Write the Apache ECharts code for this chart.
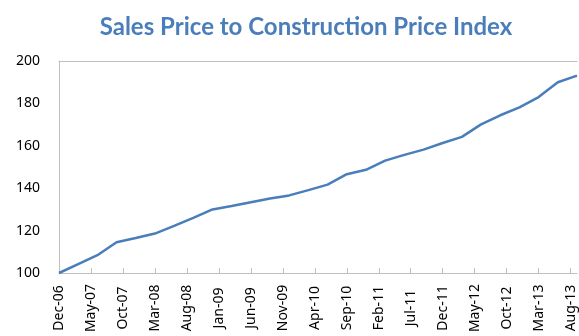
<!DOCTYPE html>
<html>
<head>
<meta charset="utf-8">
<style>
  html, body { margin: 0; padding: 0; background: #ffffff; }
  #chart { width: 579px; height: 336px; }
</style>
<script src="https://cdn.jsdelivr.net/npm/echarts@6/dist/echarts.min.js"></script>
</head>
<body>
<div id="chart"></div>
<script>
// Quarterly index readings (Dec-06 = 100)
const quarters = [
  'Dec-06', 'Mar-07', 'Jun-07', 'Sep-07', 'Dec-07', 'Mar-08', 'Jun-08',
  'Sep-08', 'Dec-08', 'Mar-09', 'Jun-09', 'Sep-09', 'Dec-09', 'Mar-10',
  'Jun-10', 'Sep-10', 'Dec-10', 'Mar-11', 'Jun-11', 'Sep-11', 'Dec-11',
  'Mar-12', 'Jun-12', 'Sep-12', 'Dec-12', 'Mar-13', 'Jun-13', 'Sep-13'
];
const indexValues = [
  100.0, 104.2, 108.4, 114.5, 116.5, 118.6, 122.2,
  126.0, 130.0, 131.6, 133.4, 135.1, 136.6, 139.1,
  141.7, 146.6, 148.7, 153.0, 155.7, 158.2, 161.3,
  164.2, 170.1, 174.4, 178.1, 183.0, 190.0, 193.1
];

// Monthly date axis from Dec-06 through Sep-13, labelled every 5 months
const monthNames = ['Jan','Feb','Mar','Apr','May','Jun','Jul','Aug','Sep','Oct','Nov','Dec'];
const months = [];
for (let y = 2006, m = 11; y < 2013 || (y === 2013 && m <= 8); ) {
  months.push(monthNames[m] + '-' + String(y % 100).padStart(2, '0'));
  m++;
  if (m > 11) { m = 0; y++; }
}

const yTicks = { min: 100, max: 200, interval: 20 };

// Place each quarterly value on its month; other months stay empty
const lookup = {};
quarters.forEach((q, i) => { lookup[q] = indexValues[i]; });
const seriesData = months.map(mo => (mo in lookup ? lookup[mo] : null));

const chart = echarts.init(document.getElementById('chart'), null, { renderer: 'canvas' });
const axisGray = '#bfbfbf';
const titleFont = 'Lato, "Liberation Sans", sans-serif';
const labelFont = '"Noto Sans", "Open Sans", sans-serif';

chart.setOption({
  animation: false,
  title: {
    text: 'Sales Price to Construction Price Index',
    left: 301,
    top: 10,
    textAlign: 'center',
    textStyle: { fontFamily: titleFont, fontWeight: 'bold', fontSize: 24, color: '#4a7ebb' }
  },
  grid: { left: 59, right: 2, top: 61, bottom: 63, containLabel: false },
  xAxis: [{
    type: 'category',
    data: months,
    boundaryGap: false,
    axisLine: { lineStyle: { color: axisGray, width: 1 } },
    axisTick: { show: true, inside: true, length: 5, interval: 4, lineStyle: { color: axisGray } },
    axisLabel: {
      interval: 4, rotate: 90, margin: 35,
      align: 'center', verticalAlign: 'middle',
      fontFamily: labelFont, fontSize: 14, color: '#000000'
    },
    splitLine: { show: false }
  }, {
    type: 'category',
    data: months,
    boundaryGap: false,
    position: 'top',
    axisLine: { lineStyle: { color: axisGray, width: 1 } },
    axisTick: { show: false },
    axisLabel: { show: false },
    splitLine: { show: false }
  }],
  yAxis: {
    type: 'value',
    min: yTicks.min, max: yTicks.max, interval: yTicks.interval,
    axisLine: { show: true, lineStyle: { color: axisGray, width: 1 } },
    axisTick: { show: false },
    axisLabel: { margin: 19, fontFamily: labelFont, fontSize: 14, color: '#000000' },
    splitLine: { show: false }
  },
  series: [{
    type: 'line',
    data: seriesData,
    connectNulls: true,
    showSymbol: false,
    symbol: 'none',
    lineStyle: { color: '#4a7ebb', width: 2.5 },
    clip: false
  }]
});
</script>
</body>
</html>
